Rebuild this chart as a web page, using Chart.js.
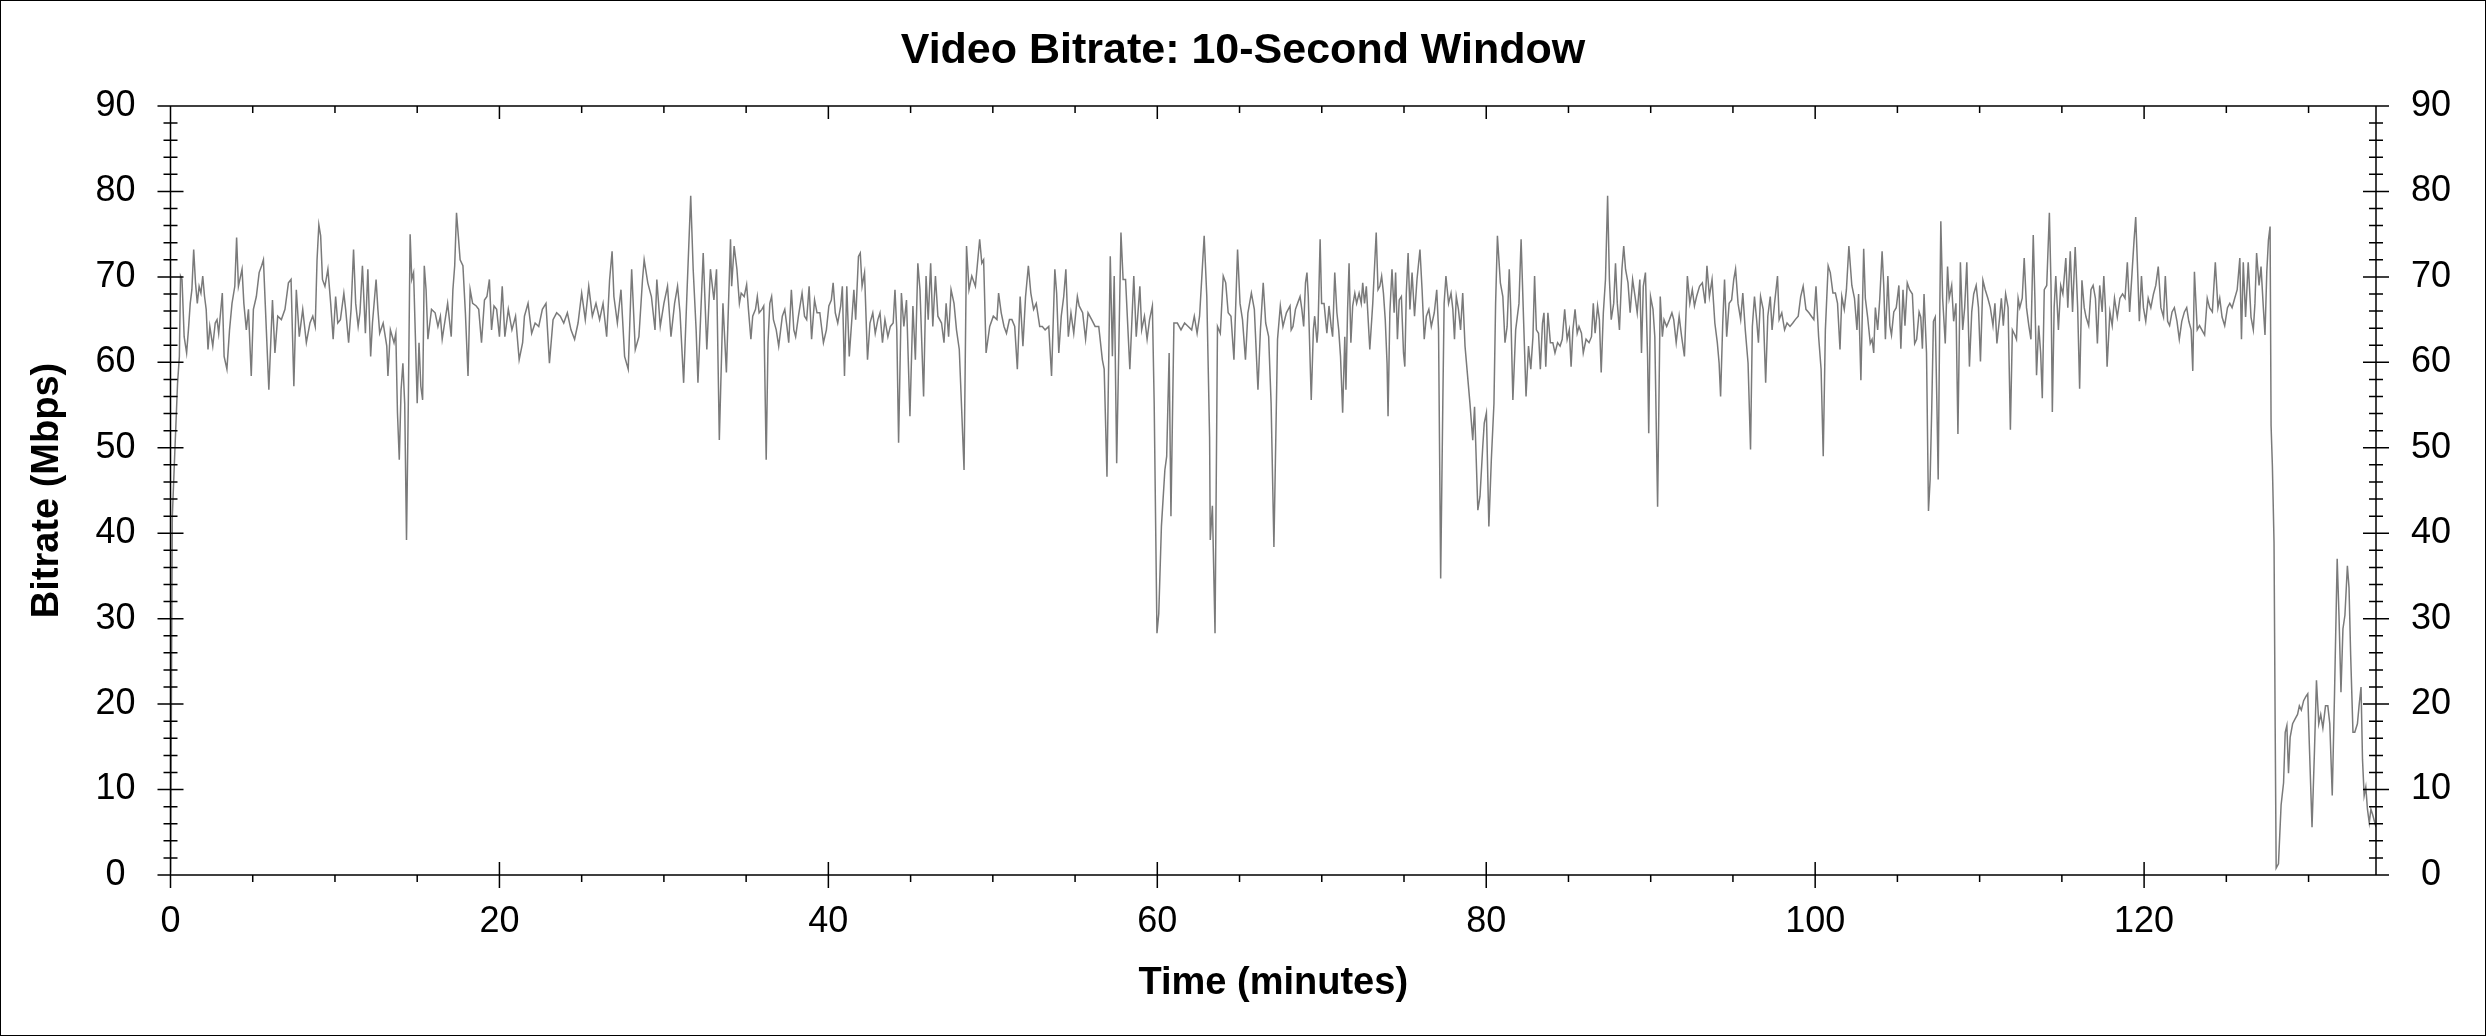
<!DOCTYPE html>
<html>
<head>
<meta charset="utf-8">
<title>Video Bitrate: 10-Second Window</title>
<script src="https://cdn.jsdelivr.net/npm/chart.js@4.4.1/dist/chart.umd.min.js"></script>
<style>
    html, body { margin: 0; padding: 0; background: #fff; overflow: hidden; }
    canvas { display: block; }
</style>
</head>
<body>
<canvas id="bitrateChart" width="2486" height="1036"></canvas>
<script>
// time of each sample (minutes)
const minutes = [
    0, 0.05, 0.11, 0.26, 0.43, 0.54, 0.61, 0.70, 0.83, 0.98,
    1.09, 1.20, 1.30, 1.41, 1.52, 1.63, 1.74, 1.85, 1.96, 2.07,
    2.17, 2.28, 2.39, 2.57, 2.72, 2.83, 2.93, 3.15, 3.26, 3.43,
    3.59, 3.74, 3.91, 4.02, 4.13, 4.35, 4.46, 4.61, 4.74, 4.91,
    5.04, 5.22, 5.39, 5.54, 5.65, 5.76, 5.98, 6.20, 6.35, 6.52,
    6.74, 6.96, 7.17, 7.33, 7.50, 7.65, 7.83, 8.04, 8.26, 8.48,
    8.65, 8.80, 8.91, 9.02, 9.13, 9.24, 9.39, 9.57, 9.74, 9.89,
    10.04, 10.17, 10.33, 10.54, 10.65, 10.83, 10.98, 11.13, 11.26, 11.41,
    11.52, 11.67, 11.85, 12.00, 12.17, 12.28, 12.50, 12.61, 12.72, 12.93,
    13.15, 13.22, 13.37, 13.59, 13.70, 13.80, 13.91, 14.02, 14.13, 14.24,
    14.35, 14.46, 14.57, 14.67, 14.78, 14.89, 15.00, 15.11, 15.22, 15.33,
    15.43, 15.54, 15.65, 15.87, 16.09, 16.26, 16.41, 16.52, 16.70, 16.85,
    17.07, 17.17, 17.28, 17.39, 17.50, 17.61, 17.78, 17.93, 18.09, 18.22,
    18.37, 18.59, 18.74, 18.91, 19.09, 19.24, 19.39, 19.52, 19.67, 19.83,
    20.00, 20.17, 20.33, 20.54, 20.76, 20.98, 21.20, 21.41, 21.52, 21.74,
    21.96, 22.17, 22.39, 22.61, 22.83, 23.04, 23.26, 23.48, 23.70, 23.91,
    24.13, 24.35, 24.57, 24.78, 25.00, 25.22, 25.43, 25.65, 25.87, 26.09,
    26.30, 26.52, 26.70, 26.85, 26.96, 27.17, 27.39, 27.61, 27.83, 28.04,
    28.26, 28.48, 28.70, 28.80, 29.02, 29.24, 29.46, 29.57, 29.78, 30.00,
    30.22, 30.43, 30.65, 30.83, 30.98, 31.20, 31.41, 31.63, 31.78, 31.96,
    32.07, 32.17, 32.39, 32.61, 32.83, 33.04, 33.20, 33.37, 33.59, 33.80,
    34.05, 34.12, 34.27, 34.44, 34.59, 34.70, 34.88, 35.03, 35.14, 35.29,
    35.40, 35.57, 35.68, 35.79, 35.96, 36.07, 36.22, 36.33, 36.44, 36.55,
    36.66, 36.83, 36.98, 37.20, 37.35, 37.48, 37.59, 37.75, 37.90, 38.01,
    38.18, 38.40, 38.55, 38.68, 38.83, 38.98, 39.16, 39.31, 39.48, 39.70,
    39.88, 40.03, 40.18, 40.29, 40.42, 40.57, 40.75, 40.85, 40.98, 41.12,
    41.27, 41.44, 41.55, 41.66, 41.83, 41.94, 42.05, 42.20, 42.38, 42.53,
    42.70, 42.85, 43.01, 43.14, 43.29, 43.44, 43.62, 43.77, 43.94, 44.05,
    44.16, 44.27, 44.44, 44.59, 44.75, 44.96, 45.14, 45.29, 45.44, 45.57,
    45.79, 45.94, 46.07, 46.22, 46.35, 46.51, 46.66, 46.88, 47.03, 47.16,
    47.31, 47.46, 47.64, 47.79, 47.96, 48.25, 48.40, 48.55, 48.72, 48.94,
    49.20, 49.33, 49.44, 49.59, 49.81, 50.03, 50.25, 50.35, 50.51, 50.68,
    50.83, 51.01, 51.16, 51.33, 51.49, 51.66, 51.83, 51.99, 52.16, 52.31,
    52.48, 52.64, 52.85, 53.01, 53.18, 53.40, 53.57, 53.77, 53.88, 54.01,
    54.16, 54.31, 54.44, 54.59, 54.75, 54.92, 55.14, 55.25, 55.46, 55.64,
    55.79, 56.01, 56.22, 56.44, 56.66, 56.77, 56.94, 57.14, 57.27, 57.38,
    57.53, 57.79, 57.92, 58.07, 58.33, 58.57, 58.72, 58.94, 59.05, 59.22,
    59.38, 59.53, 59.70, 59.81, 59.98, 60.09, 60.25, 60.46, 60.57, 60.72,
    60.83, 61.01, 61.22, 61.44, 61.66, 61.88, 62.09, 62.25, 62.42, 62.57,
    62.85, 63.01, 63.18, 63.22, 63.35, 63.51, 63.66, 63.83, 64.01, 64.16,
    64.31, 64.48, 64.66, 64.88, 65.03, 65.18, 65.36, 65.51, 65.72, 65.90,
    66.12, 66.27, 66.44, 66.59, 66.77, 66.92, 67.09, 67.31, 67.48, 67.64,
    67.85, 68.07,
    68.14, 68.25, 68.40, 68.53, 68.68, 68.79, 68.90, 69.01, 69.10, 69.18,
    69.36, 69.49, 69.57, 69.71, 69.77, 69.90, 69.99, 70.14, 70.31, 70.44,
    70.57, 70.66, 70.79, 70.92, 71.03, 71.14, 71.27, 71.40, 71.47, 71.57,
    71.66, 71.77, 71.88, 72.01, 72.12, 72.27, 72.40, 72.49, 72.60, 72.71,
    72.81, 72.92, 73.10, 73.25, 73.31, 73.42, 73.53, 73.64, 73.75, 73.86,
    73.97, 74.03, 74.14, 74.27, 74.40, 74.49, 74.60, 74.71, 74.84, 74.97,
    75.05, 75.14, 75.25, 75.36, 75.49, 75.64, 75.79, 75.97, 76.10, 76.23,
    76.36, 76.51, 76.66, 76.84, 76.99, 77.10, 77.23, 77.36, 77.44, 77.55,
    77.71, 77.86, 77.97, 78.07, 78.18, 78.31, 78.44, 78.57, 78.71, 79.01,
    79.18, 79.29, 79.49, 79.62, 79.79, 79.88, 80.01, 80.16, 80.31, 80.47,
    80.57, 80.68, 80.86, 81.01, 81.14, 81.27, 81.40, 81.49, 81.62, 81.79,
    81.99, 82.12, 82.27, 82.42, 82.57, 82.71, 82.84, 82.94, 83.05, 83.18,
    83.29, 83.42, 83.51, 83.62, 83.75, 83.90, 84.05, 84.18, 84.34, 84.49,
    84.62, 84.77, 84.92, 85.05, 85.16, 85.27, 85.40, 85.53, 85.64, 85.79,
    85.90, 86.07, 86.25, 86.40, 86.51, 86.62, 86.77, 86.88, 86.99, 87.12,
    87.25, 87.38, 87.49, 87.60, 87.75, 87.86, 87.97, 88.10, 88.25, 88.36,
    88.47, 88.62, 88.75, 88.90, 89.05, 89.18, 89.34, 89.44, 89.55, 89.68,
    89.81, 89.88, 89.99, 90.14, 90.25, 90.42, 90.58, 90.71, 90.81, 90.97,
    91.14, 91.29, 91.40, 91.55, 91.73, 91.88, 92.05, 92.23, 92.38, 92.53,
    92.66, 92.79, 92.97, 93.14, 93.31, 93.42, 93.57, 93.73, 93.90, 94.05,
    94.16, 94.25, 94.38, 94.49, 94.62, 94.77, 94.92, 95.05, 95.16, 95.31,
    95.47, 95.60, 95.75, 95.92, 96.07, 96.18, 96.31, 96.44, 96.55, 96.68,
    96.84, 96.99, 97.12, 97.27, 97.38, 97.53, 97.71, 97.81, 97.97, 98.14,
    98.29, 98.47, 98.64, 98.79, 98.97, 99.12, 99.27, 99.44, 99.62, 99.77,
    99.92, 100.05, 100.21, 100.36, 100.49, 100.62, 100.79, 100.92, 101.08, 101.23,
    101.36, 101.51, 101.62, 101.77, 101.90, 102.05,
    102.23, 102.39, 102.54, 102.64, 102.78, 102.95, 103.05, 103.19, 103.35, 103.46,
    103.56, 103.66, 103.80, 103.93, 104.07, 104.17, 104.27, 104.42, 104.54, 104.64,
    104.78, 104.93, 105.09, 105.21, 105.34, 105.46, 105.60, 105.74, 105.91, 106.05,
    106.17, 106.32, 106.42, 106.52, 106.62, 106.77, 106.89, 106.99, 107.09, 107.19,
    107.30, 107.40, 107.48, 107.58, 107.64, 107.75, 107.91, 108.05, 108.15, 108.30,
    108.42, 108.56, 108.68, 108.83, 108.97, 109.09, 109.22, 109.38, 109.52, 109.64,
    109.79, 109.93, 110.05, 110.20, 110.34, 110.50, 110.65, 110.81, 110.93, 111.05,
    111.22, 111.32, 111.44, 111.58, 111.73, 111.87, 111.99, 112.14, 112.24, 112.34,
    112.44, 112.59, 112.71, 112.85, 112.99, 113.12, 113.26, 113.36, 113.46, 113.59,
    113.71, 113.81, 113.93, 114.08, 114.24, 114.34, 114.42, 114.53, 114.63, 114.79,
    114.93, 115.06, 115.24, 115.36, 115.51, 115.65, 115.81, 115.96, 116.08, 116.22,
    116.36, 116.47, 116.63, 116.77, 116.90, 117.04, 117.16, 117.30, 117.45, 117.55,
    117.65, 117.75, 117.92, 118.06, 118.20, 118.37, 118.53, 118.69, 118.84, 118.98,
    119.12, 119.29, 119.39, 119.49, 119.59, 119.71, 119.84, 119.96, 120.10, 120.25,
    120.41, 120.57, 120.71, 120.86, 121.02, 121.18, 121.29, 121.43, 121.55, 121.70,
    121.84, 122.00, 122.14, 122.29, 122.45, 122.59, 122.72, 122.86, 122.96, 123.06,
    123.23, 123.37, 123.51, 123.68, 123.84, 123.98, 124.15, 124.33, 124.49, 124.60,
    124.74, 124.90, 125.07, 125.21, 125.35, 125.51, 125.66, 125.82, 125.92, 126.03,
    126.17, 126.33, 126.50, 126.64, 126.74, 126.84, 126.99, 127.11, 127.25, 127.35,
    127.46, 127.56, 127.66, 127.72, 127.80, 127.90, 127.97, 128.03, 128.17, 128.33,
    128.48, 128.58, 128.68, 128.78, 128.88, 129.03, 129.19, 129.33, 129.44, 129.56,
    129.70, 129.84, 129.95, 130.05, 130.21, 130.36, 130.48, 130.62, 130.74, 130.87,
    131.03, 131.17, 131.29, 131.44, 131.58, 131.74, 131.85, 131.97, 132.09, 132.21,
    132.36, 132.46, 132.56, 132.70, 132.81, 132.97, 133.07, 133.19, 133.28, 133.38,
    133.48, 133.58, 133.69, 133.79, 133.89, 134.1
];

// bitrate at each sample (Mbps)
const bitrate = [
    0.3, 18, 41.9, 49.4, 57.6, 60.7, 70.1, 69.7, 63.0, 61.1,
    63.8, 66.9, 68.5, 73.2, 69.3, 66.9, 68.9, 68.1, 70.1, 67.7,
    66.2, 61.5, 64.2, 61.9, 64.6, 65.0, 63.4, 68.1, 60.7, 59.2,
    63.8, 66.9, 68.9, 74.6, 68.9, 70.9, 66.9, 63.8, 66.2, 58.4,
    66.2, 67.7, 70.5, 71.3, 72.0, 66.9, 56.8, 67.3, 61.1, 65.4,
    65.0, 66.2, 69.3, 69.7, 57.2, 68.5, 63.0, 66.2, 62.3, 64.6,
    65.4, 64.2, 72.0, 76.1, 74.8, 69.7, 68.9, 70.9, 66.9, 62.7,
    67.7, 64.6, 65.0, 68.1, 66.2, 62.3, 66.2, 73.2, 66.9, 64.2,
    65.8, 71.3, 63.4, 70.9, 60.7, 64.6, 69.7, 66.2, 63.4, 64.6,
    61.9, 58.4, 63.8, 62.3, 63.4, 54.1, 48.6, 56.8, 59.9, 55.2,
    39.2, 55.2, 75.0, 69.7, 70.5, 63.0, 55.2, 62.3, 57.2, 55.6,
    71.3, 68.5, 62.7, 66.2, 65.8, 64.2, 65.4, 62.7, 65.0, 66.9,
    63.0, 68.5, 71.3, 77.5, 74.8, 72.0, 71.3, 65.8, 58.4, 68.5,
    66.9, 66.6, 66.2, 62.3, 67.3, 67.7, 69.7, 63.8, 66.6, 66.2,
    63.0, 68.9, 63.0, 66.2, 63.8, 65.4, 60.3, 62.3, 65.4, 66.9,
    63.4, 64.6, 64.2, 66.2, 66.9, 59.9, 65.0, 65.8, 65.4, 64.6,
    65.8, 63.8, 62.7, 64.6, 68.1, 65.0, 68.9, 65.4, 66.9, 65.0,
    66.9, 63.0, 69.7, 73.0, 67.7, 64.6, 68.5, 60.7, 59.2, 70.9,
    61.5, 63.0, 69.7, 72.0, 69.3, 67.7, 63.8, 69.7, 64.2, 66.9,
    68.9, 63.0, 66.9, 68.9, 65.8, 57.6, 68.5, 79.5, 70.9, 63.8,
    57.6, 62.3, 72.8, 61.5, 70.9, 67.3, 70.9, 50.9, 66.9, 58.8,
    74.4, 68.9, 73.6, 70.9, 66.9, 68.1, 67.7, 69.1, 66.2, 62.7,
    65.4, 66.2, 67.7, 65.8, 66.2, 66.6, 48.6, 62.3, 66.9, 67.7,
    65.0, 63.8, 61.9, 65.4, 66.2, 64.2, 62.3, 68.5, 63.8, 63.0,
    65.4, 68.1, 65.4, 65.0, 68.9, 62.7, 67.3, 65.8, 65.8, 62.3,
    63.8, 66.6, 67.3, 69.3, 65.8, 64.6, 66.6, 68.9, 58.4, 68.9,
    60.7, 65.4, 68.5, 65.0, 72.4, 72.8, 68.9, 70.5, 60.3, 64.6,
    65.8, 63.4, 65.0, 65.8, 62.3, 65.0, 63.0, 64.2, 64.6, 68.5,
    63.8, 50.6, 68.1, 64.2, 67.3, 53.7, 66.6, 60.3, 71.6, 68.5,
    56.0, 70.1, 65.0, 71.6, 64.2, 70.1, 65.4, 64.6, 62.3, 66.9,
    63.0, 68.5, 66.9, 63.8, 61.5, 47.4, 73.6, 68.5, 70.1, 68.9,
    74.4, 71.6, 72.0, 61.1, 64.2, 65.4, 65.0, 68.1, 65.8, 64.2,
    63.4, 65.0, 65.0, 64.2, 59.2, 67.7, 61.9, 67.7, 71.3, 68.1,
    66.2, 66.9, 64.2, 64.2, 63.8, 64.2, 58.4, 70.9, 68.1, 61.1,
    65.4, 67.7, 70.9, 63.0, 65.8, 63.4, 67.7, 66.6, 65.8, 62.7,
    65.8, 65.0, 64.2, 64.2, 60.3, 59.2, 46.6, 72.4, 60.7, 70.1,
    48.2, 75.2, 69.7, 69.7, 59.2, 70.1, 63.0, 68.9, 63.8, 65.4,
    62.7, 65.0, 66.6, 55.2, 28.3, 30.6, 40.8, 47.4, 49.0, 61.1,
    42.0, 64.6, 64.6, 63.8, 64.6, 64.2, 63.8, 65.4, 63.4, 65.4,
    74.8, 67.7, 51.3, 39.2, 43.2, 28.3, 64.2, 63.4, 70.1, 69.3,
    65.8, 65.4, 60.3, 73.2, 66.9, 65.0, 60.3, 65.8, 68.1, 66.2,
    56.8, 63.8, 69.3, 64.6, 63.0, 55.2, 38.4, 62.7, 66.6, 64.2,
    65.8, 66.6,
    63.8, 64.2, 66.2, 66.9, 67.7, 66.2, 64.2, 69.3, 70.5, 67.7,
    55.6, 63.8, 65.4, 62.3, 63.8, 74.4, 66.9, 66.9, 63.4, 66.6,
    64.2, 63.0, 70.5, 65.8, 63.8, 60.7, 54.1, 63.0, 56.8, 66.2,
    71.6, 62.3, 66.6, 68.1, 66.9, 68.1, 66.9, 69.3, 66.9, 68.9,
    65.4, 61.5, 66.9, 72.8, 75.2, 68.5, 68.9, 70.1, 68.1, 65.0,
    59.9, 53.7, 65.8, 70.9, 65.8, 70.5, 62.7, 67.3, 67.7, 61.1,
    59.5, 68.1, 72.8, 66.2, 70.5, 65.4, 69.7, 73.2, 68.5, 62.7,
    65.4, 66.2, 64.2, 65.8, 68.5, 63.8, 34.7, 55.2, 66.9, 70.1,
    66.9, 68.1, 66.2, 62.7, 67.7, 66.2, 63.8, 68.1, 61.9, 55.2,
    50.9, 54.8, 42.7, 44.3, 50.2, 52.9, 54.1, 40.8, 48.6, 55.2,
    66.9, 74.8, 69.3, 67.7, 62.3, 64.2, 70.9, 66.2, 55.6, 63.8,
    66.9, 74.4, 65.0, 56.0, 61.9, 59.2, 63.0, 70.1, 63.8, 63.4,
    59.2, 64.6, 65.8, 59.5, 65.8, 62.3, 62.3, 61.1, 62.3, 61.9,
    62.7, 66.2, 62.7, 63.8, 59.5, 63.8, 66.2, 63.4, 64.2, 63.4,
    61.1, 62.7, 62.3, 63.0, 66.9, 63.4, 66.6, 65.0, 58.8, 65.8,
    69.7, 79.5, 69.7, 65.0, 66.9, 71.6, 66.9, 63.8, 70.9, 73.6,
    70.9, 69.3, 65.8, 69.7, 67.7, 65.8, 69.7, 61.1, 68.9, 70.5,
    60.7, 51.7, 67.7, 66.2, 63.0, 43.1, 67.7, 63.0, 65.0, 64.2,
    65.0, 65.8, 65.0, 62.3, 65.4, 63.0, 60.7, 70.1, 66.9, 68.5,
    66.6, 67.7, 68.9, 69.3, 66.9, 71.3, 67.7, 69.7, 64.6, 62.3,
    59.9, 56.0, 64.6, 69.7, 63.0, 66.9, 67.3, 69.7, 70.9, 66.9,
    65.0, 68.1, 63.8, 59.9, 49.8, 64.2, 67.7, 65.0, 62.3, 67.7,
    66.2, 57.6, 65.4, 67.7, 63.8, 66.9, 70.1, 65.0, 65.8, 63.8,
    64.6, 64.2, 64.6, 65.0, 65.4, 67.7, 68.9, 66.2, 65.8, 65.4,
    65.0, 68.9, 63.0, 59.2, 49.0, 63.8, 71.3, 70.5, 68.1, 68.1,
    66.9, 61.5, 67.7, 66.2, 68.5, 73.6,
    69.0, 67.5, 63.8, 68.0, 57.9, 73.3, 67.5, 65.3, 62.2, 62.7,
    61.1, 66.4, 63.8, 67.5, 73.0, 69.0, 62.7, 70.1, 64.3, 63.2,
    65.9, 66.4, 69.0, 61.6, 68.5, 64.3, 69.3, 68.5, 68.0, 62.2,
    62.7, 65.9, 65.3, 61.6, 68.0, 61.1, 42.6, 46.3, 54.8, 64.8,
    65.3, 55.3, 46.3, 66.4, 76.5, 67.5, 62.2, 71.2, 67.5, 69.0,
    64.8, 66.9, 51.6, 71.7, 63.8, 66.4, 71.7, 59.5, 65.9, 68.0,
    69.0, 66.4, 60.1, 69.6, 68.5, 67.5, 66.4, 64.3, 66.9, 62.2,
    65.3, 67.5, 64.3, 68.0, 66.4, 52.1, 63.8, 63.2, 62.7, 67.5,
    66.4, 67.5, 72.2, 66.4, 64.3, 62.7, 74.9, 67.5, 58.5, 64.3,
    61.1, 55.8, 68.5, 69.0, 77.5, 69.0, 54.2, 66.4, 70.1, 63.8,
    69.0, 68.0, 72.2, 66.4, 73.0, 65.9, 73.5, 66.4, 56.9, 69.6,
    66.4, 65.3, 64.3, 68.5, 69.0, 67.5, 62.2, 69.0, 65.9, 70.1,
    66.4, 59.5, 65.9, 64.3, 67.5, 65.3, 67.5, 68.0, 67.5, 71.7,
    65.9, 71.2, 74.3, 77.0, 71.7, 64.8, 70.1, 66.4, 64.8, 67.5,
    66.4, 68.0, 69.0, 71.2, 66.4, 65.3, 70.1, 64.8, 64.3, 65.9,
    66.4, 64.8, 62.7, 64.8, 65.9, 66.4, 64.8, 63.8, 59.0, 70.6,
    63.8, 64.3, 63.8, 63.2, 67.5, 66.4, 65.9, 71.7, 66.4, 67.5,
    65.3, 64.3, 66.4, 66.9, 66.4, 67.5, 68.5, 72.2, 62.7, 71.7,
    65.3, 71.7, 65.3, 63.8, 66.9, 72.8, 69.0, 71.2, 66.4, 63.2,
    70.6, 74.3, 75.9, 52.6, 47.9, 38.9, 17.2, 0.8, 1.3, 8.2,
    10.8, 16.7, 17.5, 11.9, 16.1, 17.7, 18.3, 18.8, 19.8, 19.3,
    20.4, 20.9, 21.2, 15.1, 5.6, 14.6, 22.8, 17.7, 18.8, 17.2,
    19.8, 19.8, 17.7, 9.3, 21.4, 37.0, 30.4, 21.4, 28.8, 30.4,
    36.2, 33.6, 25.7, 16.7, 16.7, 17.7, 19.8, 22.0, 13.5, 9.3,
    10.3, 7.7, 6.1, 7.7, 7.1, 5.6
];

const timeMax = 134.1;
const xMajorTicks = [0, 20, 40, 60, 80, 100, 120];
const yMajorTicks = [0, 10, 20, 30, 40, 50, 60, 70, 80, 90];

const xMinorTicks = [];
for (let m = 5; m < timeMax; m += 5) {
    if (m % 20 !== 0) xMinorTicks.push(m);
}
const yMinorTicks = [];
for (let v = 2; v < 90; v += 2) {
    if (v % 10 !== 0) yMinorTicks.push(v);
}

Chart.defaults.font.family = "'Liberation Sans', Arial, sans-serif";
Chart.defaults.color = '#000';

// box frame with crossing tick marks on all four sides
const axisFrame = {
    id: 'axisFrame',
    beforeDraw(chart) {
        const ctx = chart.ctx;
        ctx.save();
        ctx.fillStyle = '#fff';
        ctx.fillRect(0, 0, chart.width, chart.height);
        ctx.restore();
    },
    afterDraw(chart) {
        const {ctx, chartArea, scales} = chart;
        const {left, right, top, bottom} = chartArea;
        const seg = (x1, y1, x2, y2) => {
            ctx.moveTo(x1, y1);
            ctx.lineTo(x2, y2);
        };
        ctx.save();
        ctx.strokeStyle = '#000';
        ctx.lineWidth = 1.5;
        ctx.beginPath();
        ctx.rect(left, top, right - left, bottom - top);
        xMajorTicks.forEach(v => {
            const px = scales.x.getPixelForValue(v);
            seg(px, bottom - 13, px, bottom + 13);
            seg(px, top, px, top + 13);
        });
        xMinorTicks.forEach(v => {
            const px = scales.x.getPixelForValue(v);
            seg(px, bottom, px, bottom + 7);
            seg(px, top, px, top + 7);
        });
        yMajorTicks.forEach(v => {
            const py = scales.y.getPixelForValue(v);
            seg(left - 13, py, left + 13, py);
            seg(right - 13, py, right + 13, py);
        });
        yMinorTicks.forEach(v => {
            const py = scales.y.getPixelForValue(v);
            seg(left - 7, py, left + 7, py);
            seg(right - 7, py, right + 7, py);
        });
        ctx.stroke();
        ctx.lineWidth = 2;
        ctx.strokeRect(0, 0, chart.width, chart.height);
        ctx.restore();
    }
};

const tickFont = {size: 36};
const titleFont = {size: 38, weight: 'bold'};

new Chart(document.getElementById('bitrateChart'), {
    type: 'line',
    data: {
        datasets: [{
            data: minutes.map((m, i) => ({x: m, y: bitrate[i]})),
            borderColor: '#7a7a7a',
            borderWidth: 1.5,
            pointRadius: 0,
            tension: 0,
            fill: false
        }]
    },
    options: {
        responsive: false,
        devicePixelRatio: 1,
        animation: false,
        layout: {padding: 0},
        plugins: {
            legend: {display: false},
            tooltip: {enabled: false},
            title: {
                display: true,
                text: 'Video Bitrate: 10-Second Window',
                color: '#000',
                font: {size: 43, weight: 'bold'},
                padding: {top: 25, bottom: 29.4}
            }
        },
        scales: {
            x: {
                type: 'linear',
                position: 'bottom',
                min: 0,
                max: timeMax,
                grid: {display: false, drawTicks: false},
                border: {display: false},
                ticks: {stepSize: 20, includeBounds: false, autoSkip: false, maxRotation: 0, padding: 25, font: tickFont, color: '#000'},
                title: {display: true, text: 'Time (minutes)', color: '#000', font: titleFont, padding: {top: 0, bottom: 30}},
                afterFit: s => { s.height = 161; }
            },
            y: {
                type: 'linear',
                position: 'left',
                min: 0,
                max: 90,
                grid: {display: false, drawTicks: false},
                border: {display: false},
                ticks: {stepSize: 10, includeBounds: false, crossAlign: 'center', padding: 35, font: tickFont, color: '#000'},
                title: {display: true, text: 'Bitrate (Mbps)', color: '#000', font: titleFont, padding: {top: 25, bottom: 0}},
                afterFit: s => { s.width = 170.5; }
            },
            y2: {
                type: 'linear',
                position: 'right',
                min: 0,
                max: 90,
                grid: {display: false, drawTicks: false},
                border: {display: false},
                ticks: {stepSize: 10, includeBounds: false, crossAlign: 'center', padding: 35, font: tickFont, color: '#000'},
                afterFit: s => { s.width = 110; }
            }
        }
    },
    plugins: [axisFrame]
});
</script>
</body>
</html>
